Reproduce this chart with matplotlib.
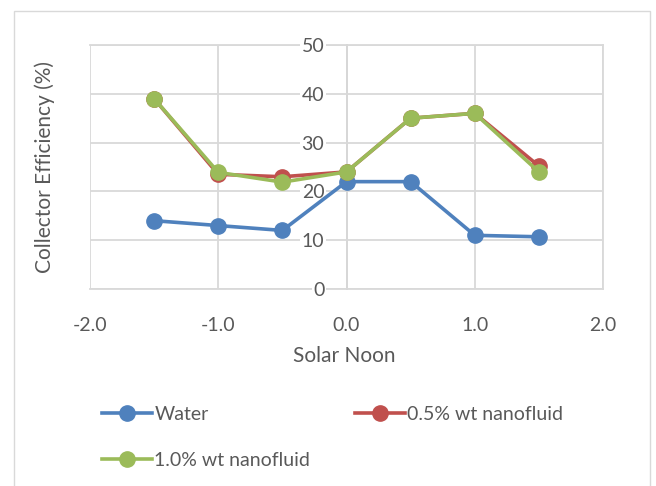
import matplotlib
matplotlib.use('Agg')
import matplotlib.pyplot as plt
from matplotlib.patches import Rectangle

plt.rcParams['font.family'] = ['Lato', 'DejaVu Sans']

# hours relative to solar noon
hours = [-1.5, -1.0, -0.5, 0.0, 0.5, 1.0, 1.5]
water = [14.0, 13.0, 12.0, 22.0, 22.0, 11.0, 10.7]
nf_05 = [39.0, 23.5, 23.0, 24.0, 35.0, 36.0, 25.2]
nf_10 = [39.0, 23.9, 21.9, 24.0, 35.0, 36.0, 24.0]

x_ticks = [-2.0, -1.0, 0.0, 1.0, 2.0]
y_ticks = [0, 10, 20, 30, 40, 50]

txt = '#595959'
grid = '#d9d9d9'

fig = plt.figure(figsize=(6.56, 4.86), dpi=100)
ax = fig.add_axes([90 / 656, 1 - 289 / 486, 513 / 656, 244 / 486])

# outer chart frame
fig.patches.append(Rectangle((14 / 656, -0.1), 636 / 656, 1.1 - 11 / 486,
                             transform=fig.transFigure, fill=False,
                             edgecolor='#d9d9d9', linewidth=1.0))

kw = dict(linewidth=2.6, marker='o', markersize=11)
l1, = ax.plot(hours, water, color='#4f81bd', label='Water', zorder=3, **kw)
l2, = ax.plot(hours, nf_05, color='#c0504d', label='0.5% wt nanofluid', zorder=3, **kw)
l3, = ax.plot(hours, nf_10, color='#9bbb59', label='1.0% wt nanofluid', zorder=4, **kw)

ax.set_xlim(-2, 2)
ax.set_ylim(0, 50)
ax.set_xticks(x_ticks)
ax.set_xticklabels(['%.1f' % v for v in x_ticks])
ax.set_yticks(y_ticks)
ax.grid(True, color=grid, linewidth=1.3, zorder=0)
ax.set_axisbelow(True)

ax.spines['left'].set_position(('data', 0))
ax.spines['left'].set_color('#bfbfbf')
ax.spines['left'].set_linewidth(1.3)
for s in ['top', 'right', 'bottom']:
    ax.spines[s].set_color(grid)
    ax.spines[s].set_linewidth(1.3)
# keep the frame under the axis labels
for s in ax.spines.values():
    s.set_zorder(0.3)

ax.tick_params(axis='both', length=0, labelsize=14, labelcolor=txt)
ax.tick_params(axis='y', pad=16)
ax.tick_params(axis='x', pad=20)
# y labels sit inside the plot, so mask the gridlines behind them
for lab in ax.get_yticklabels():
    lab.set_bbox(dict(facecolor='white', edgecolor='none', pad=1))

ax.set_xlabel('Solar Noon', fontsize=15, color=txt)
ax.xaxis.set_label_coords(0.495, -0.235)
ax.set_ylabel('Collector Efficiency (%)', fontsize=15, color=txt)
ax.yaxis.set_label_coords(-0.068, 0.5)

leg = fig.legend([l1, l3, l2], [l1.get_label(), l3.get_label(), l2.get_label()],
                 ncol=2, loc='upper left', bbox_to_anchor=(92 / 656, 1 - 396 / 486),
                 frameon=False, fontsize=14, handlelength=2.6, handletextpad=0.1,
                 columnspacing=2.3, labelspacing=1.5, borderpad=0)
for t in leg.get_texts():
    t.set_color(txt)

fig.savefig('out.png', dpi=100)
